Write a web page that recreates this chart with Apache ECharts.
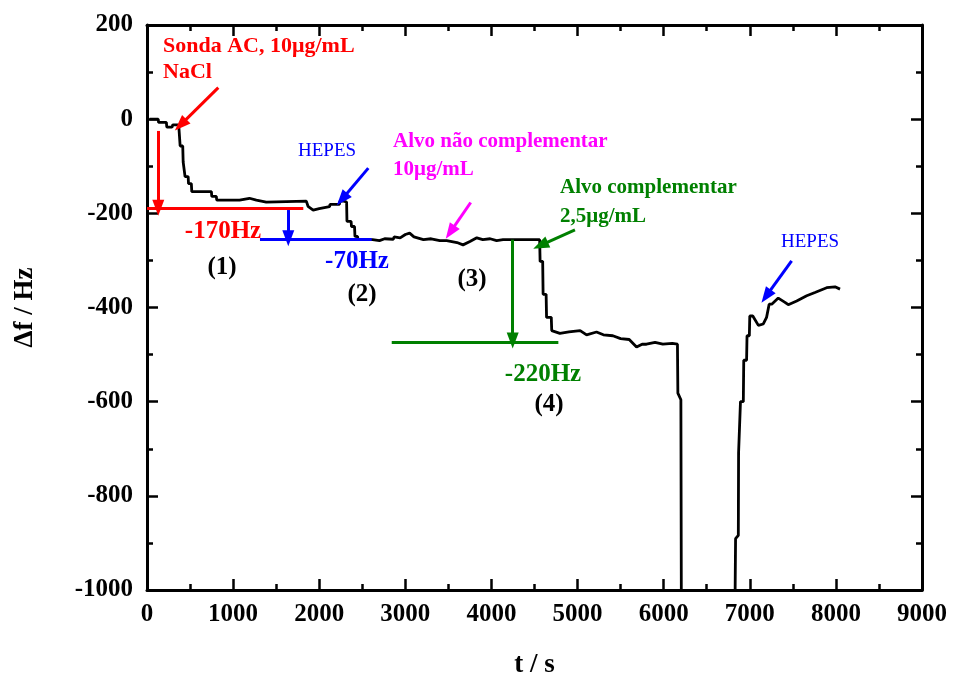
<!DOCTYPE html>
<html>
<head>
<meta charset="utf-8">
<script src="https://cdn.jsdelivr.net/npm/echarts@6/dist/echarts.min.js"></script>
<style>
    html, body { margin: 0; padding: 0; background: #fff; }
    #main { width: 961px; height: 684px; }
</style>
</head>
<body>
<div id="main"></div>
<script>
// t / s
var times = [30, 130, 135, 225, 230, 290, 300, 360, 370, 380, 385, 415, 420, 438, 442, 478, 482, 515, 520, 748,
    752, 805, 810, 1075, 1080, 1190, 1196, 1270, 1275, 1385, 1390, 1850, 1870, 1930, 2000, 2010, 2120, 2125, 2235, 2240,
    2285, 2290, 2318, 2322, 2370, 2375, 2410, 2415, 2445, 2450, 2620, 2700, 2760, 2860, 2870, 2940, 3000, 3050, 3100, 3210,
    3300, 3400, 3480, 3600, 3670, 3750, 3830, 3900, 3985, 4060, 4135, 4525, 4560, 4565, 4595, 4600, 4635, 4640, 4695, 4700,
    4795, 4900, 5030, 5105, 5220, 5300, 5410, 5500, 5600, 5685, 5750, 5800, 5900, 5990, 6100, 6160, 6165, 6200, 6205, 6500,
    6830, 6835, 6867, 6870, 6887, 6892, 6925, 6930, 6963, 6968, 6995, 7000, 7035, 7045, 7100, 7157, 7195, 7215, 7225, 7255,
    7331, 7409, 7447, 7545, 7661, 7757, 7893, 7990, 8048];
// Δf / Hz
var freq = [0, 0, -7, -7, -17, -17, -12, -12, -17, -17, -57, -57, -91, -91, -122, -122, -137, -137, -154, -154,
    -164, -164, -172, -172, -168, -168, -172, -172, -176, -176, -174, -174, -185, -193, -190, -186, -186, -181, -181, -174,
    -174, -176, -176, -217, -217, -228, -228, -249, -249, -256, -256, -258, -254, -255, -250, -252, -245, -242, -250, -256,
    -254, -258, -258, -262, -267, -260, -252, -256, -254, -258, -256, -256, -256, -302, -302, -372, -372, -421, -421, -449,
    -455, -452, -449, -458, -452, -458, -460, -466, -468, -484, -478, -478, -474, -478, -476, -478, -582, -596, -1000, null,
    -1000, -891, -884, -709, -709, -600, -600, -512, -512, -460, -460, -418, -418, -414, -438, -435, -421, -418, -393, -393,
    -380, -389, -394, -386, -375, -368, -358, -356, -361];

var xTicks = { min: 0, max: 9000, step: 1000 };
var yTicks = { min: -1000, max: 200, step: 200 };

// arrows / guide lines: [t0, f0, t1, f1, colour, head]
var marks = [
    [0, -190, 1815, -190, '#ff0000', false],
    [131, -25, 131, -188, '#ff0000', true],
    [828, 67, 390, -12, '#ff0000', true],
    [1312, -256, 2609, -256, '#0000ff', false],
    [1641, -193, 1641, -253, '#0000ff', true],
    [2570, -104, 2265, -170, '#0000ff', true],
    [3759, -177, 3522, -240, '#ff00ff', true],
    [2842, -474, 4777, -474, '#008000', false],
    [4247, -256, 4247, -470, '#008000', true],
    [4970, -235, 4570, -268, '#008000', true],
    [7486, -301, 7190, -376, '#0000ff', true]
];

var seriesData = times.map(function(t, i) {
    return [t, freq[i] === null ? '-' : freq[i]];
});

var markData = marks.map(function(m) {
    var ls = { color: m[4], width: 3, type: 'solid' };
    return [
        { coord: [m[0], m[1]], symbol: 'none', lineStyle: ls },
        { coord: [m[2], m[3]], symbol: m[5] ? 'triangle' : 'none', lineStyle: ls, itemStyle: { color: m[4] } }
    ];
});

var serif = '"Liberation Serif", "Times New Roman", serif';

function txt(str, x, y, color, size, bold, align) {
    return {
        type: 'text',
        x: x,
        y: y,
        silent: true,
        style: {
            text: str,
            fill: color,
            font: (bold ? 'bold ' : '') + size + 'px ' + serif,
            textAlign: align || 'left',
            textVerticalAlign: 'middle'
        }
    };
}

function plain(v) {
    return String(v);
}

var axisCommon = {
    type: 'value',
    axisLine: { show: true, onZero: false, lineStyle: { color: '#000', width: 3 } },
    axisTick: { show: true, inside: true, length: 11, lineStyle: { color: '#000', width: 2.5 } },
    minorTick: { show: true, splitNumber: 2, length: 6, lineStyle: { color: '#000', width: 2.5 } },
    splitLine: { show: false },
    nameTextStyle: { color: '#000', fontFamily: serif, fontWeight: 'bold', fontSize: 27 }
};

var myChart = echarts.init(document.getElementById('main'));
var option = {
    backgroundColor: '#fff',
    animation: false,
    grid: { left: 147, right: 39, top: 25, bottom: 89 },
    xAxis: [
        echarts.util.merge({
            position: 'bottom',
            min: xTicks.min, max: xTicks.max, interval: xTicks.step,
            name: 't / s', nameLocation: 'middle', nameGap: 62,
            axisLabel: { color: '#000', fontFamily: serif, fontWeight: 'bold', fontSize: 25, margin: 12, formatter: plain }
        }, axisCommon, false),
        echarts.util.merge({
            position: 'top',
            min: xTicks.min, max: xTicks.max, interval: xTicks.step,
            axisLabel: { show: false }
        }, axisCommon, false)
    ],
    yAxis: [
        echarts.util.merge({
            position: 'left',
            min: yTicks.min, max: yTicks.max, interval: yTicks.step,
            name: 'Δf / Hz', nameLocation: 'middle', nameGap: 108,
            axisLabel: { color: '#000', fontFamily: serif, fontWeight: 'bold', fontSize: 25, margin: 14, formatter: plain }
        }, axisCommon, false),
        echarts.util.merge({
            position: 'right',
            min: yTicks.min, max: yTicks.max, interval: yTicks.step,
            axisLabel: { show: false }
        }, axisCommon, false)
    ],
    series: [{
        type: 'line',
        data: seriesData,
        showSymbol: false,
        connectNulls: false,
        clip: true,
        lineStyle: { color: '#000', width: 2.8 },
        markLine: {
            silent: true,
            animation: false,
            symbolSize: [12, 16],
            label: { show: false },
            emphasis: { disabled: true },
            data: markData
        }
    }],
    graphic: [
        txt('Sonda AC, 10μg/mL', 163, 46, '#ff0000', 22, true),
        txt('NaCl', 163, 72, '#ff0000', 22, true),
        txt('HEPES', 298, 151, '#0000ff', 19, false),
        txt('-170Hz', 223, 232, '#ff0000', 25, true, 'center'),
        txt('(1)', 222, 268, '#000', 25, true, 'center'),
        txt('-70Hz', 357, 262, '#0000ff', 25, true, 'center'),
        txt('(2)', 362, 295, '#000', 25, true, 'center'),
        txt('Alvo não complementar', 393, 142, '#ff00ff', 21, true),
        txt('10μg/mL', 393, 170, '#ff00ff', 21, true),
        txt('(3)', 472, 280, '#000', 25, true, 'center'),
        txt('Alvo complementar', 560, 188, '#008000', 21, true),
        txt('2,5μg/mL', 560, 217, '#008000', 21, true),
        txt('-220Hz', 543, 375, '#008000', 25, true, 'center'),
        txt('(4)', 549, 405, '#000', 25, true, 'center'),
        txt('HEPES', 781, 242, '#0000ff', 19, false)
    ]
};
myChart.setOption(option);

window.onresize = function() {
    myChart.resize();
};
</script>
</body>
</html>
